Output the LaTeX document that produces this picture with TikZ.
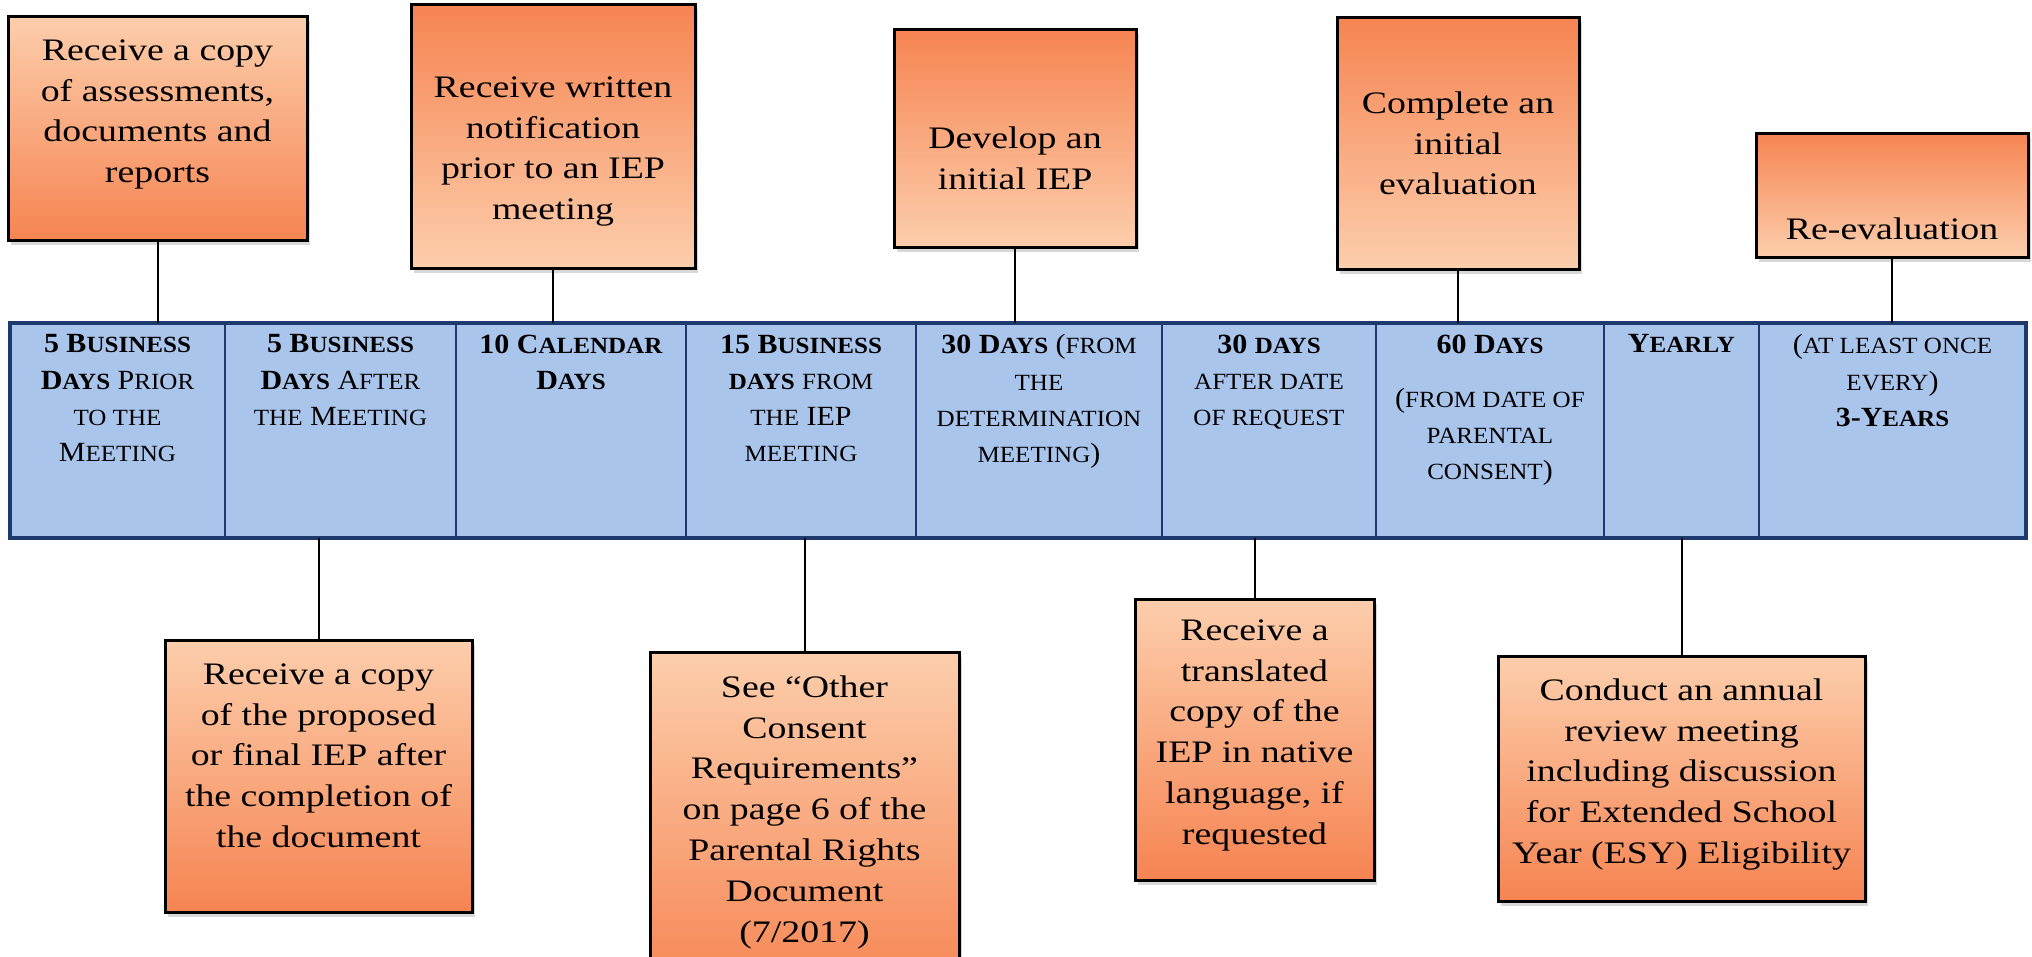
\documentclass[tikz,border=0pt]{standalone}
\usepackage{fontspec}
\setmainfont{Liberation Serif}
\newfontfamily\boxfont[FakeStretch=1.21]{Liberation Serif}
\newfontfamily\barfont[FakeStretch=1.08]{Liberation Serif}
\usetikzlibrary{shadows}
\definecolor{ordark}{RGB}{246,132,82}
\definecolor{orlight}{RGB}{252,206,172}
\definecolor{barblue}{RGB}{170,197,236}
\definecolor{barline}{RGB}{28,58,110}
\newcommand\sck[1]{{\fontsize{6.6}{10.3}\selectfont #1}}
\begin{document}
\begin{tikzpicture}[x=0.1mm,y=-0.1mm,
 obox/.style={draw=black, line width=0.3mm, inner sep=0, outer sep=0,
   drop shadow={shadow xshift=0.25mm, shadow yshift=-0.45mm, opacity=0.3}},
 odown/.style={obox, top color=ordark, bottom color=orlight},
 oup/.style={obox, top color=orlight, bottom color=ordark},
 btext/.style={font=\boxfont\fontsize{8.9}{11.6}\selectfont, align=center, inner sep=0, anchor=north},
 cell/.style={draw=barline, line width=0.2mm, fill=barblue, inner sep=0, outer sep=0, minimum height=21.5mm},
 ctext/.style={font=\barfont\fontsize{7.9}{10.3}\selectfont, align=center, inner sep=0, anchor=north},
 conn/.style={draw=black, line width=0.2mm},
]
\useasboundingbox (0,0) rectangle (2032,956);
\fill[white] (0,0) rectangle (2032,956);
\clip (0,0) rectangle (2032,956);

% timeline cells
\node[cell, minimum width=21.5mm] (c1) at (117.5,430.5) {};
\node[cell, minimum width=23.1mm] (c2) at (340.5,430.5) {};
\node[cell, minimum width=23.0mm] (c3) at (571,430.5) {};
\node[cell, minimum width=23.0mm] (c4) at (801,430.5) {};
\node[cell, minimum width=24.6mm] (c5) at (1039,430.5) {};
\node[cell, minimum width=21.4mm] (c6) at (1269,430.5) {};
\node[cell, minimum width=22.8mm] (c7) at (1490,430.5) {};
\node[cell, minimum width=15.5mm] (c8) at (1681.5,430.5) {};
\node[cell, minimum width=26.7mm] (c9) at (1892.5,430.5) {};
\draw[barline, line width=0.35mm] (c1.north west) rectangle (c9.south east);

% cell labels
\node[ctext] (l1) at (117.5,334) {\textbf{5 B\sck{USINESS}}\\\textbf{D\sck{AYS}} P\sck{RIOR}\\\sck{TO THE}\\M\sck{EETING}};
\node[ctext] (l2) at (340.5,334) {\textbf{5 B\sck{USINESS}}\\\textbf{D\sck{AYS}} A\sck{FTER}\\\sck{THE} M\sck{EETING}};
\node[ctext] (l3) at (571,334) {\textbf{10 C\sck{ALENDAR}}\\\textbf{D\sck{AYS}}};
\node[ctext] (l4) at (801,334) {\textbf{15 B\sck{USINESS}}\\\textbf{\sck{DAYS}} \sck{FROM}\\\sck{THE} IEP\\\sck{MEETING}};
\node[ctext] (l5) at (1039,334) {\textbf{30 D\sck{AYS}} (\sck{FROM}\\\sck{THE}\\\sck{DETERMINATION}\\\sck{MEETING})};
\node[ctext] (l6) at (1269,334) {\textbf{30 \sck{DAYS}}\\\sck{AFTER DATE}\\\sck{OF REQUEST}};
\node[ctext] (l7) at (1490,334) {\textbf{60 D\sck{AYS}}\\[1.8mm](\sck{FROM DATE OF}\\\sck{PARENTAL}\\\sck{CONSENT})};
\node[ctext] (l8) at (1681.5,334) {\textbf{Y\sck{EARLY}}};
\node[ctext] (l9) at (1892.5,334) {(\sck{AT LEAST ONCE}\\\sck{EVERY})\\\textbf{3-Y\sck{EARS}}};

% top boxes
\node[oup, minimum width=29.9mm, minimum height=22.4mm] (b1) at (157.5,128) {};
\node[odown, minimum width=28.4mm, minimum height=26.4mm] (b2) at (553,136) {};
\node[odown, minimum width=24.2mm, minimum height=21.8mm] (b3) at (1015,138) {};
\node[odown, minimum width=24.2mm, minimum height=25.2mm] (b4) at (1458,143) {};
\node[odown, minimum width=27.2mm, minimum height=12.4mm] (b5) at (1892,195) {};

% bottom boxes
\node[oup, minimum width=30.7mm, minimum height=27.2mm] (b6) at (318.5,776) {};
\node[oup, minimum width=30.9mm, minimum height=34.8mm] (b7) at (804.5,826) {};
\node[oup, minimum width=23.9mm, minimum height=28.1mm] (b8) at (1254.5,739.5) {};
\node[oup, minimum width=36.7mm, minimum height=24.5mm] (b9) at (1681.5,778.5) {};

% box texts
\node[btext] (t1) at (157.5,39) {Receive a copy\\of assessments,\\documents and\\reports};
\node[btext] (t2) at (553,76) {Receive written\\notification\\prior to an IEP\\meeting};
\node[btext] (t3) at (1015,126) {Develop an\\initial IEP};
\node[btext] (t4) at (1458,91) {Complete an\\initial\\evaluation};
\node[btext] (t5) at (1892,217) {Re-evaluation};
\node[btext] (t6) at (318.5,663) {Receive a copy\\of the proposed\\or final IEP after\\the completion of\\the document};
\node[btext] (t7) at (804.5,675) {See “Other\\Consent\\Requirements”\\on page 6 of the\\Parental Rights\\Document\\(7/2017)};
\node[btext] (t8) at (1254.5,619) {Receive a\\translated\\copy of the\\IEP in native\\language, if\\requested};
\node[btext] (t9) at (1681.5,678) {Conduct an annual\\review meeting\\including discussion\\for Extended School\\Year (ESY) Eligibility};

% connectors
\draw[conn] (b1.south) -- (b1.south |- c1.north);
\draw[conn] (b2.south) -- (b2.south |- c3.north);
\draw[conn] (b3.south) -- (b3.south |- c5.north);
\draw[conn] (b4.south) -- (b4.south |- c7.north);
\draw[conn] (b5.south) -- (b5.south |- c9.north);
\draw[conn] (c2.south -| b6.north) -- (b6.north);
\draw[conn] (c4.south -| b7.north) -- (b7.north);
\draw[conn] (c6.south -| b8.north) -- (b8.north);
\draw[conn] (c8.south -| b9.north) -- (b9.north);
\end{tikzpicture}
\end{document}
